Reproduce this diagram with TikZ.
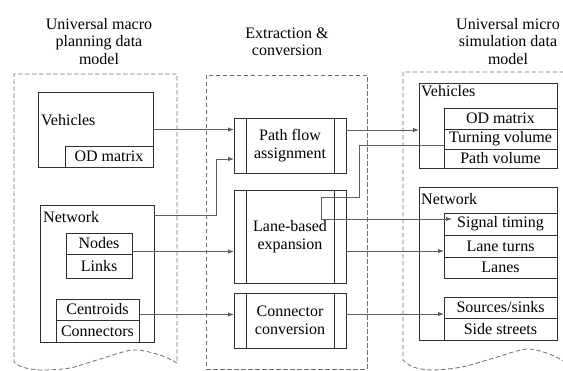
\documentclass[tikz,border=0pt]{standalone}
\usepackage{fontspec}
\setmainfont{Liberation Serif}
\usetikzlibrary{arrows.meta,calc}
\definecolor{boxc}{HTML}{303030}
\definecolor{linec}{HTML}{5E5E5E}
\definecolor{dashc}{HTML}{6E6E6E}
\newcommand{\fs}{\fontsize{16}{17.5}\selectfont}
\begin{document}
\begin{tikzpicture}[x=1pt,y=-1pt,
  box/.style={draw=boxc, line width=0.8pt, inner sep=0pt, outer sep=0pt, font=\fs, align=center},
  lbl/.style={inner sep=0pt, anchor=west, font=\fs},
  conn/.style={draw=linec, line width=0.9pt},
  arr/.style={conn, -{Latex[length=6pt,width=4.5pt]}},
  cont/.style={draw=dashc, line width=0.8pt, dash pattern=on 4.5pt off 2.5pt},
  ttl/.style={align=center, font=\fs, inner sep=0pt}]
\useasboundingbox (0,0) rectangle (563,371);

% titles
\node[ttl] (tL) at (99,41.5) {Universal macro\\planning data\\model};
\node[ttl] (tM) at (287,42) {Extraction \&\\conversion};
\node[ttl] (tR) at (508,41.5) {Universal micro\\simulation data\\model};

% containers
\draw[cont] plot[smooth] coordinates {(177,363) (160,355) (133,350) (100,359) (70,368) (40,370) (22,367) (14,362)} -- (14,74) -- (177,74) -- cycle;
\draw[cont] (206,75) rectangle (367,369);
\draw[cont] plot[smooth] coordinates {(566,363) (552,355) (527,349) (494,358) (462,367) (432,370) (413,367) (403,360)} -- (403,72) -- (566,72) -- cycle;

% left model
\node[box, minimum width=115pt, minimum height=75pt] (vehL) at (95.5,129.5) {};
\node[lbl] (vehLt) at (41,120) {Vehicles};
\node[box, minimum width=88pt, minimum height=21pt] (odL) at (109,156.5) {OD matrix};
\node[box, minimum width=114pt, minimum height=137pt] (netL) at (97,273.5) {};
\node[lbl] (netLt) at (43,217) {Network};
\node[box, minimum width=66pt, minimum height=21pt] (nodesL) at (99,243.5) {Nodes};
\node[box, minimum width=66pt, minimum height=24pt] (linksL) at (99,266) {Links};
\node[box, minimum width=83pt, minimum height=21pt] (centL) at (97.5,309.5) {Centroids};
\node[box, minimum width=83pt, minimum height=22pt] (connL) at (97.5,331) {Connectors};

% middle processes
\node[box, minimum width=112pt, minimum height=55pt] (pfa) at (290,145.5) {Path flow\\assignment};
\node[box, minimum width=112pt, minimum height=93pt] (lbe) at (290,236.5) {Lane-based\\expansion};
\node[box, minimum width=112pt, minimum height=55pt] (cc) at (290,320.5) {Connector\\conversion};
\foreach \n in {pfa,lbe,cc}{
  \draw[draw=boxc, line width=0.8pt] ($(\n.north west)+(12,0)$) -- ($(\n.south west)+(12,0)$);
  \draw[draw=boxc, line width=0.8pt] ($(\n.north east)+(-12,0)$) -- ($(\n.south east)+(-12,0)$);
}

% right model
\node[box, minimum width=138pt, minimum height=85pt] (vehR) at (488,125.5) {};
\node[lbl] (vehRt) at (421,91) {Vehicles};
\node[box, minimum width=113pt, minimum height=21pt] (odR) at (500.5,118.5) {OD matrix};
\node[box, minimum width=113pt, minimum height=20pt] (turnR) at (500.5,139) {Turning volume};
\node[box, minimum width=113pt, minimum height=19pt] (pathR) at (500.5,158.5) {Path volume};
\node[box, minimum width=138pt, minimum height=153pt] (netR) at (488,263.5) {};
\node[lbl] (netRt) at (421,199) {Network};
\node[box, minimum width=113pt, minimum height=22pt] (sigR) at (500.5,224) {Signal timing};
\node[box, minimum width=113pt, minimum height=22pt] (ltR) at (500.5,246) {Lane turns};
\node[box, minimum width=113pt, minimum height=21pt] (lanesR) at (500.5,267.5) {Lanes};
\node[box, minimum width=113pt, minimum height=21pt] (srcR) at (500.5,307.5) {Sources/sinks};
\node[box, minimum width=113pt, minimum height=22pt] (sideR) at (500.5,329) {Side streets};

% connectors
\draw[arr] (vehL.east) -- (vehL.east -| pfa.west);
\draw[arr] ($(netL.north east)+(0,10)$) -- ++(62,0) |- ($(pfa.south west)+(0,-14)$);
\draw[arr] ($(nodesL.south east)+(0,-2.5)$) coordinate (n1) -- (n1 -| lbe.west);
\draw[arr] ($(centL.east)+(0,5)$) coordinate (c1) -- (c1 -| cc.west);
\draw[arr] ($(pfa.north east)+(0,12)$) coordinate (p1) -- (p1 -| vehR.west);
\draw[arr] ($(turnR.west)+(0,6)$) -- ++(-85,0) -- ++(0,52) -- ++(-38,0) |- ($(sigR.north west)+(8,6)$);
\draw[arr] ($(lbe.east)+(0,14.5)$) coordinate (l1) -- (l1 -| ltR.west);
\draw[arr] ($(cc.east)+(0,-6.5)$) coordinate (k1) -- (k1 -| srcR.west);
\end{tikzpicture}
\end{document}
